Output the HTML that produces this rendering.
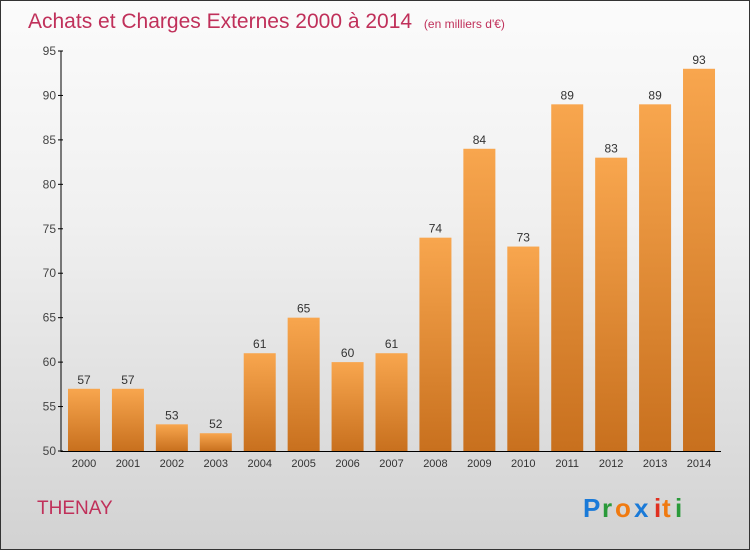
<!DOCTYPE html>
<html><head><meta charset="utf-8"><style>
body{margin:0}
#c{position:relative;width:748px;height:548px;border:1px solid #333;background:linear-gradient(#fbfbfb,#f0f0f0 40%,#d2d2d2);overflow:hidden;font-family:"Liberation Sans",sans-serif}
</style></head><body>
<div id="c">
<svg width="748" height="548">
<defs><linearGradient id="g" x1="0" y1="0" x2="0" y2="1"><stop offset="0" stop-color="#f8a64e"/><stop offset="1" stop-color="#c8701e"/></linearGradient></defs>
<text x="27" y="27" font-size="21" fill="#c0305a">Achats et Charges Externes 2000 à 2014 <tspan font-size="12" dx="6">(en milliers d'€)</tspan></text>
<g id="plot"></g>
<text x="36" y="513" font-size="19" fill="#c0305a">THENAY</text>
<g font-size="26" font-weight="bold">
<text x="582" y="516" fill="#1a7ad8">P</text><text x="601" y="516" fill="#2a9a3a">r</text><text x="614" y="516" fill="#f07a10">o</text><text x="633" y="516" fill="#1a7ad8">x</text><text x="653" y="516" fill="#e03020">i</text><text x="661" y="516" fill="#f07a10">t</text><text x="674" y="516" fill="#2a9a3a">i</text></g>
</svg></div>
<script>
const years=["2000","2001","2002","2003","2004","2005","2006","2007","2008","2009","2010","2011","2012","2013","2014"];
const values=[57,57,53,52,61,65,60,61,74,84,73,89,83,89,93];
const ticks=[50,55,60,65,70,75,80,85,90,95];
const NS="http://www.w3.org/2000/svg";
const g=document.getElementById('plot');
const y=v=>450-(v-50)*400/45;
const x=i=>83+i*43.93;
function mk(t,a,txt){const e=document.createElementNS(NS,t);for(const k in a)e.setAttribute(k,a[k]);if(txt!==undefined)e.textContent=txt;g.appendChild(e);return e;}
let e=mk('line',{x1:60,y1:50,x2:60,y2:451,stroke:'#000'});


e=mk('line',{x1:60,y1:450.5,x2:720,y2:450.5,stroke:'#000'});


ticks.forEach(t=>{
 e=mk('line',{x1:57,y1:y(t),x2:62,y2:y(t),stroke:'#000'});
 
 
 e=mk('text',{x:55,y:y(t)+4,'text-anchor':'end','font-size':12,fill:'#444'},t);
 
 
});
values.forEach((v,i)=>{
 e=mk('rect',{x:x(i)-16,y:y(v),width:32,height:450-y(v),fill:'url(#g)'});
 
 
 e=mk('text',{x:x(i),y:y(v)-5,'text-anchor':'middle','font-size':12,fill:'#333'},v);
 
 
 e=mk('text',{x:x(i),y:466,'text-anchor':'middle','font-size':11,fill:'#333'},years[i]);
 
 
});
</script>
</body></html>
